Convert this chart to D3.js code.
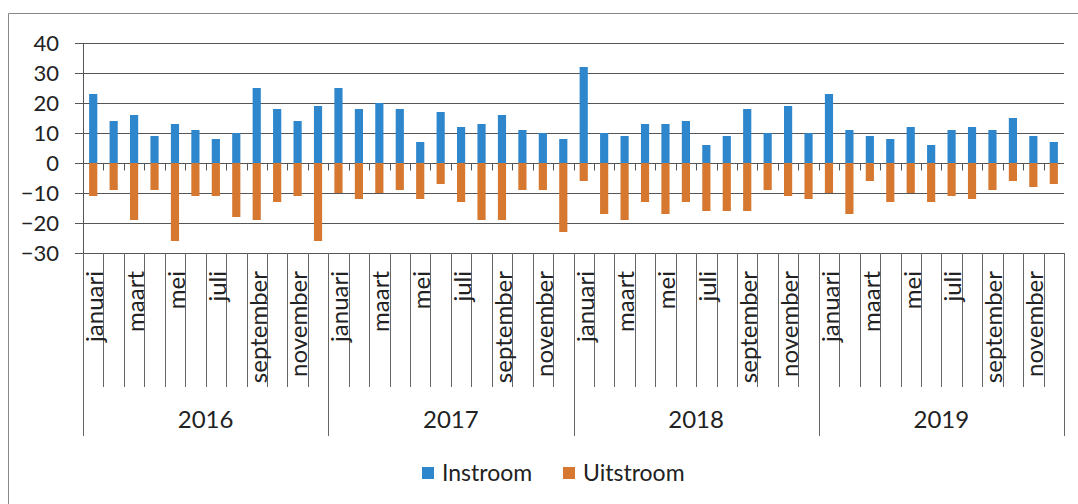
<!DOCTYPE html>
<html><head><meta charset="utf-8">
<script src="https://cdn.jsdelivr.net/npm/d3@7"></script>
<style>
html,body{margin:0;padding:0;background:#fff;}
svg{display:block;font-family:Lato,"Open Sans",sans-serif;}
</style></head>
<body>
<svg id="c" width="1078" height="504"></svg>
<script>
const monthNames = ["januari","februari","maart","april","mei","juni","juli","augustus","september","oktober","november","december"];
const years = ["2016","2017","2018","2019"];
const seriesNames = ["Instroom","Uitstroom"];
const instroom = [23,14,16,9,13,11,8,10,25,18,14,19, 25,18,20,18,7,17,12,13,16,11,10,8, 32,10,9,13,13,14,6,9,18,10,19,10, 23,11,9,8,12,6,11,12,11,15,9,7];
const uitstroom = [-11,-9,-19,-9,-26,-11,-11,-18,-19,-13,-11,-26, -10,-12,-10,-9,-12,-7,-13,-19,-19,-9,-9,-23, -6,-17,-19,-13,-17,-13,-16,-16,-16,-9,-11,-12, -10,-17,-6,-13,-10,-13,-11,-12,-9,-6,-8,-7];
const yTicks = [-30,-20,-10,0,10,20,30,40];

const colors = {Instroom:"#2e86cc", Uitstroom:"#d6782f"};
const keys = [];
years.forEach(y => monthNames.forEach(m => keys.push(y + "|" + m)));

const svg = d3.select("#c");
const L = 83, R = 1064, T = 43, B = 253;

// frame
svg.append("path").attr("d","M8.5,504 V13.5 H1078").attr("fill","none").attr("stroke","#888").attr("stroke-width",1);

const x = d3.scaleBand().domain(keys).range([L,R]).paddingInner(0.6).paddingOuter(0.3);
const xYear = d3.scaleBand().domain(years).range([L,R]);
const y = d3.scaleLinear().domain([-30,40]).range([B,T]);
const step = x.step();

// gridlines
svg.append("g").selectAll("line").data(yTicks).join("line")
  .attr("x1",L-8).attr("x2",R).attr("y1",d=>Math.round(y(d))+0.5).attr("y2",d=>Math.round(y(d))+0.5)
  .attr("stroke","#555").attr("stroke-width",1);

// y axis labels via d3 axis
const yAxis = svg.append("g").attr("transform",`translate(${L-8},0)`)
  .call(d3.axisLeft(y).tickValues(yTicks).tickSize(0).tickPadding(16));
yAxis.select(".domain").remove();
yAxis.selectAll("text").attr("font-size",22).attr("fill","#222").attr("font-family","Lato");

// y axis line
svg.append("line").attr("x1",L+0.5).attr("x2",L+0.5).attr("y1",T).attr("y2",B).attr("stroke","#555");

// bars
const data = keys.map((k,i)=>({k, ins:instroom[i], uit:uitstroom[i]}));
svg.append("g").selectAll("rect").data(data).join("rect")
  .attr("x",d=>x(d.k)).attr("width",x.bandwidth())
  .attr("y",d=>y(d.ins)).attr("height",d=>y(0)-y(d.ins))
  .attr("fill",colors.Instroom);
svg.append("g").selectAll("rect").data(data).join("rect")
  .attr("x",d=>x(d.k)).attr("width",x.bandwidth())
  .attr("y",y(0)).attr("height",d=>y(d.uit)-y(0))
  .attr("fill",colors.Uitstroom);

// zero axis ticks at category boundaries
const y0 = Math.round(y(0))+0.5;
svg.append("g").selectAll("line").data(keys.slice(1)).join("line")
  .attr("x1",d=>Math.round(x(d)-x.bandwidth()*0.75)+0.5)
  .attr("x2",d=>Math.round(x(d)-x.bandwidth()*0.75)+0.5)
  .attr("y1",y0).attr("y2",y0+7).attr("stroke","#555");

// category boundary lines (month level)
const bx = d => Math.round(x(d) - (step - x.bandwidth())/2) + 0.5;
svg.append("g").selectAll("line").data(keys).join("line")
  .attr("x1",bx).attr("x2",bx)
  .attr("y1",B).attr("y2",d=>d.endsWith("|januari") ? 436 : 387)
  .attr("stroke","#666");
svg.append("line").attr("x1",R+0.5).attr("x2",R+0.5).attr("y1",B).attr("y2",436).attr("stroke","#666");

// month labels (odd months)
svg.append("g").selectAll("text").data(keys.filter((k,i)=>i%2===0)).join("text")
  .attr("transform",d=>`translate(${bx(d)+step-1},271) rotate(-90)`)
  .attr("text-anchor","end")
  .attr("font-size",24).attr("fill","#222")
  .text(d=>d.split("|")[1]);

// year labels
svg.append("g").selectAll("text").data(years).join("text")
  .attr("x",d=>xYear(d)+xYear.bandwidth()/2).attr("y",428)
  .attr("text-anchor","middle").attr("font-size",24).attr("fill","#222")
  .text(d=>d);

// legend
const lg = svg.append("g");
const legX = [422, 563];
seriesNames.forEach((s,i)=>{
  lg.append("rect").attr("x",legX[i]).attr("y",467).attr("width",12).attr("height",12).attr("fill",colors[s]);
  lg.append("text").attr("x",legX[i]+20).attr("y",481).attr("font-size",23).attr("fill","#222").text(s);
});
</script>
</body></html>
